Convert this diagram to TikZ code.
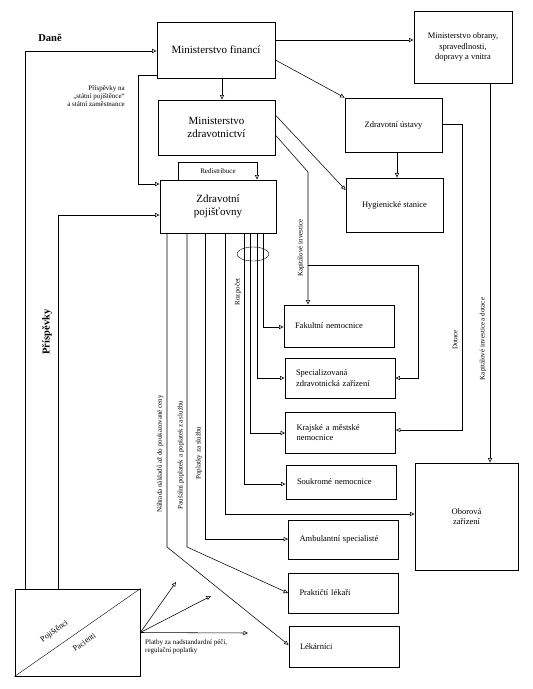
\documentclass[tikz,border=0pt]{standalone}
\usepackage{fontspec}
\setmainfont{Liberation Serif}
\usetikzlibrary{arrows.meta}

\begin{document}
\begin{tikzpicture}[x=1pt,y=-1pt]
\tikzset{box/.style={draw, line width=0.8pt, align=center, font=\fontsize{8.5}{10.5}\selectfont}}
\tikzset{bigbox/.style={box, font=\fontsize{11}{13.5}\selectfont}}
\tikzset{leftbox/.style={box, align=left, text width=88pt, inner xsep=11pt, minimum width=110pt}}
\tikzset{flow/.style={line width=0.55pt, -{Triangle[open, length=4.5pt, width=4pt]}}}
\tikzset{lbl/.style={inner sep=1pt, font=\fontsize{7}{8}\selectfont}}
\tikzset{vlbl/.style={lbl, rotate=90}}
\tikzset{biglbl/.style={inner sep=1pt, font=\fontsize{10.5}{12}\selectfont\bfseries}}
	\useasboundingbox (0,0) rectangle (533,689);
	\node[bigbox, minimum width=118pt, minimum height=56pt] (mf) at (216,50) {Ministerstvo financí};
	\node[bigbox, minimum width=117pt, minimum height=55pt] (mz) at (216.5,127.5) {Ministerstvo\\zdravotnictví};
	\node[bigbox, minimum width=116pt, minimum height=53pt] (zp) at (218,206.5) {Zdravotní\\pojišťovny};
	\node[box, minimum width=98pt, minimum height=72pt] (mo) at (463,47) {Ministerstvo obrany,\\spravedlnosti,\\dopravy a vnitra};
	\node[box, minimum width=97pt, minimum height=54pt] (zu) at (393.5,125) {Zdravotní ústavy};
	\node[box, minimum width=97pt, minimum height=54pt] (hs) at (394.5,205) {Hygienické stanice};
	\node[leftbox, minimum height=42pt] (fn) at (339,326) {Fakultní nemocnice};
	\node[leftbox, minimum height=40pt] (sz) at (340,378) {Specializovaná\\zdravotnická zařízení};
	\node[leftbox, minimum height=41pt] (kn) at (340.5,432.5) {Krajské a městské\\nemocnice};
	\node[leftbox, minimum height=34pt] (sn) at (341,482) {Soukromé nemocnice};
	\node[leftbox, minimum height=39pt] (as) at (343.5,539.5) {Ambulantní specialisté};
	\node[leftbox, minimum height=40pt] (pl) at (343.5,593) {Praktičtí lékaři};
	\node[leftbox, minimum height=41pt] (lk) at (344,646.5) {Lékárníci};
	\node[box, minimum width=103pt, minimum height=107pt] (oz) at (466.5,516.5) {Oborová\\zařízení};
	\node[draw, line width=0.8pt, minimum width=125pt, minimum height=87pt] (pp) at (77.5,632.5) {};
	\draw (pp.south west) -- node[lbl, pos=0.38, sloped, above=9pt, font=\fontsize{8}{9}\selectfont] (pojl) {Pojištěnci}
		node[lbl, pos=0.5, sloped, below=8pt, font=\fontsize{8}{9}\selectfont] (pacl) {Pacienti} (pp.north east);

	\draw[flow] (25,0 |- pp.north) |- (mf.west |- 0,51);
	\node[biglbl] (dane) at (50,38) {Daně};
	\draw[flow] (58,0 |- pp.north) |- (zp.west |- 0,215);
	\node[biglbl, rotate=90] (prisp) at (47,332) {Příspěvky};
	\draw[flow] (mf.west |- 0,75) -- (138,75) |- (zp.west |- 0,184);
	\node[lbl, align=right, anchor=east] (statni) at (126,96) {Příspěvky na\\„státní pojištěnce“\\a státní zaměstnance};
	\draw[flow] (mf.east |- 0,40) -- (mo.west |- 0,40);
	\draw[flow] (mf.east |- 0,60) -- (zu.north west);
	\draw[flow] (222,0 |- mf.south) -- (222,0 |- mz.north);
	\draw[flow] (178,0 |- zp.north) |- (257,162) -- (257,0 |- zp.north);
	\node[lbl] (redis) at (218,171) {Redistribuce};
	\draw[flow] (mz.east |- 0,115) -- (hs.west |- 0,190);
	\draw[flow] (mz.east |- 0,135) -- (308,172) -- (308,0 |- fn.north);
	\node[vlbl] (kapinv) at (301,248) {Kapitálové investice};
	\coordinate (kibr) at (308,265);
	\draw[flow] (kibr) -| (418,378) -- (sz.east |- 0,378);
	\draw[flow] (397,0 |- zu.south) -- (397,0 |- hs.north);
	\draw[flow] (zu.east |- 0,124) -| (462,430) -- (kn.east |- 0,430);
	\node[vlbl] (dotace) at (455,340) {Dotace};
	\draw[flow] (490,0 |- mo.south) -- (490,0 |- oz.north);
	\node[vlbl] (kapdot) at (483,339) {Kapitálové investice a dotace};

	\draw[flow] (263,0 |- zp.south) |- (fn.west |- 0,327);
	\draw[flow] (257,0 |- zp.south) |- (sz.west |- 0,378);
	\draw[flow] (250,0 |- zp.south) |- (kn.west |- 0,433);
	\draw[flow] (244,0 |- zp.south) |- (sn.west |- 0,484);
	\draw (253,254) ellipse [x radius=16, y radius=7];
	\node[vlbl] (rozp) at (238,292) {Rozpočet};
	\draw[flow] (225,0 |- zp.south) |- (oz.west |- 0,514);
	\draw[flow] (205,0 |- zp.south) |- (as.west |- 0,539);
	\node[vlbl] (popl) at (199,453) {Poplatky za službu};
	\draw[flow] (187,0 |- zp.south) -- (187,547) -- (pl.west |- 0,593);
	\node[vlbl] (paus) at (181,455) {Paušální poplatek a poplatek za službu};
	\draw[flow] (167,0 |- zp.south) -- (167,547) -- (lk.west |- 0,645);
	\node[vlbl] (nahr) at (160,454) {Náhrada nákladů až do poukazované ceny};

	\coordinate (pa1) at (176,582);
	\coordinate (pa2) at (211,596);
	\coordinate (pa3) at (248,633);
	\draw[flow] (pp.east) -- (pa1);
	\draw[flow] (pp.east) -- (pa2);
	\draw[flow] (pp.east) -- (pa3);
	\node[lbl, align=left, anchor=north west] (platby) at (144,638) {Platby za nadstandardní péči,\\regulační poplatky};
\end{tikzpicture}
\end{document}
